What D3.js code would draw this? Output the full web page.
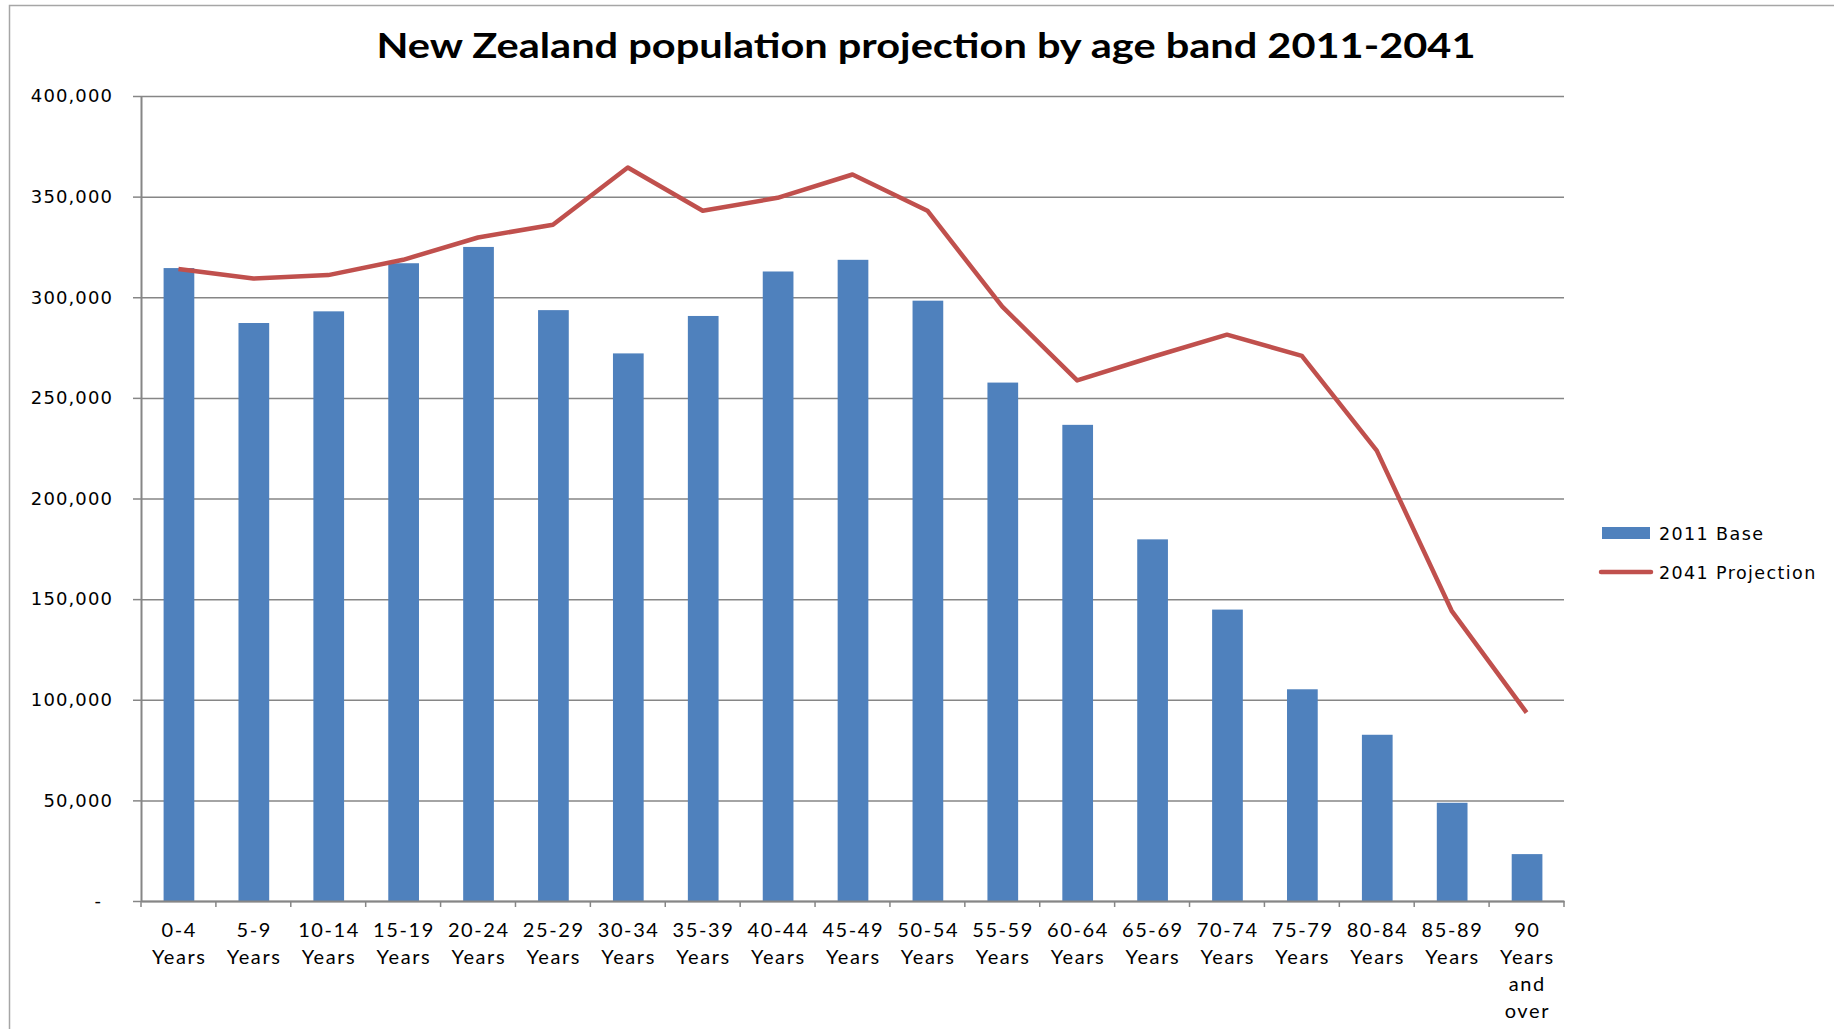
<!DOCTYPE html>
<html>
<head>
<meta charset="utf-8">
<script src="https://cdn.jsdelivr.net/npm/d3@7"></script>
<style>
    body { margin: 0; background: #fff; }
    svg { display: block; }
</style>
</head>
<body>
<div id="chart"></div>
<script>
// chart values
const chartTitle = "New Zealand population projection by age band 2011-2041";
const ageBands = ["0-4 Years", "5-9 Years", "10-14 Years", "15-19 Years", "20-24 Years",
    "25-29 Years", "30-34 Years", "35-39 Years", "40-44 Years", "45-49 Years",
    "50-54 Years", "55-59 Years", "60-64 Years", "65-69 Years", "70-74 Years",
    "75-79 Years", "80-84 Years", "85-89 Years", "90 Years and over"];
const base2011 = [314500, 287200, 293000, 316900, 325000, 293600, 272100, 290700, 312800, 318600,
    298300, 257600, 236600, 179700, 144800, 105200, 82600, 48800, 23300];
const proj2041 = [314000, 309300, 311000, 318600, 329700, 336000, 364500, 343000, 349400, 361000,
    343000, 295300, 258700, 270300, 281400, 270900, 223800, 144200, 93600];
const yTicks = [0, 50000, 100000, 150000, 200000, 250000, 300000, 350000, 400000];
const seriesNames = ["2011 Base", "2041 Projection"];

const barColor = "#4F81BD", lineColor = "#C0504D", gridColor = "#868686";

let margin = {top: 96, right: 270, bottom: 128, left: 141};
let fullW = 1834, fullH = 1029;
let width = fullW - margin.left - margin.right;
let height = fullH - margin.top - margin.bottom;

let svg = d3.select("#chart").append("svg")
    .attr("width", fullW)
    .attr("height", fullH);

// outer chart border (only left + top visible)
svg.append("path")
    .attr("d", "M9.5," + fullH + "V5.5H" + fullW)
    .attr("fill", "none")
    .attr("stroke", "#a6a6a6")
    .attr("stroke-width", 1.5);

svg.append("text")
    .attr("x", 926)
    .attr("y", 58)
    .attr("text-anchor", "middle")
    .attr("font-family", "Lato, 'Open Sans', sans-serif")
    .attr("font-weight", "bold")
    .attr("font-size", 35)
    .attr("textLength", 1099)
    .attr("lengthAdjust", "spacingAndGlyphs")
    .text(chartTitle);

let g = svg.append("g")
    .attr("transform", "translate(" + margin.left + "," + margin.top + ")");

let x = d3.scaleBand().domain(ageBands).range([0, width]);
let y = d3.scaleLinear().domain([0, 400000]).range([height, 0]);
let bw = x.bandwidth();
let barW = bw * 0.41;

// gridlines
let grid = g.append("g")
    .call(d3.axisLeft(y).tickValues(yTicks).tickSize(-width).tickFormat(""));
grid.select(".domain").remove();
grid.selectAll("line").attr("stroke", gridColor).attr("stroke-width", 1.5);

// bars
g.selectAll(".bar")
    .data(ageBands)
    .enter().append("rect")
    .attr("class", "bar")
    .attr("x", function (d) { return x(d) + (bw - barW) / 2 + 0.5; })
    .attr("width", barW)
    .attr("y", function (d, i) { return y(base2011[i]); })
    .attr("height", function (d, i) { return height - y(base2011[i]); })
    .attr("fill", barColor);

// y axis
let yAxis = g.append("g")
    .call(d3.axisLeft(y).tickValues(yTicks).tickSize(8).tickSizeOuter(0)
        .tickFormat(function (d) { return d === 0 ? "-" : d3.format(",")(d); }));
yAxis.select(".domain").attr("stroke", gridColor).attr("stroke-width", 2);
yAxis.selectAll("line").attr("stroke", gridColor).attr("stroke-width", 1.5);
yAxis.selectAll("text")
    .attr("x", -28)
    .attr("fill", "#000")
    .attr("font-family", "'DejaVu Sans', sans-serif")
    .attr("font-size", 18)
    .attr("letter-spacing", 1.1)
    .filter(function (d) { return d === 0; })
    .attr("x", -39);

// x axis: labels at band centres, ticks at band edges
let xAxis = g.append("g")
    .attr("transform", "translate(0," + height + ")")
    .call(d3.axisBottom(x).tickSize(0).tickSizeOuter(0));
xAxis.select(".domain").attr("stroke", gridColor).attr("stroke-width", 2);
xAxis.selectAll("text").each(function (d) {
    let t = d3.select(this).text(null)
        .attr("y", 0)
        .attr("dy", null)
        .attr("fill", "#000")
        .attr("font-family", "Lato, 'Open Sans', sans-serif")
        .attr("font-size", 20)
        .attr("letter-spacing", 1.6);
    d.split(" ").forEach(function (w, k) {
        t.append("tspan").attr("x", 0.8).attr("y", 36 + k * 27).text(w);
    });
});
g.append("g").selectAll("line")
    .data(ageBands.map(function (d) { return x(d); }).concat([width]))
    .enter().append("line")
    .attr("x1", function (d) { return d; })
    .attr("x2", function (d) { return d; })
    .attr("y1", height)
    .attr("y2", height + 6)
    .attr("stroke", gridColor)
    .attr("stroke-width", 1.5);

// projection line
g.append("path")
    .datum(proj2041)
    .attr("fill", "none")
    .attr("stroke", lineColor)
    .attr("stroke-width", 4.5)
    .attr("stroke-linejoin", "round")
    .attr("d", d3.line()
        .x(function (d, i) { return x(ageBands[i]) + bw / 2; })
        .y(function (d) { return y(d); })
    );

// legend
let legend = svg.append("g");
legend.append("rect")
    .attr("x", 1602).attr("y", 527).attr("width", 48).attr("height", 12)
    .attr("fill", barColor);
legend.append("line")
    .attr("x1", 1601).attr("x2", 1651).attr("y1", 572).attr("y2", 572)
    .attr("stroke", lineColor).attr("stroke-width", 4.5).attr("stroke-linecap", "round");
legend.selectAll("text")
    .data(seriesNames)
    .enter().append("text")
    .attr("x", 1659)
    .attr("y", function (d, i) { return 540 + i * 39; })
    .attr("font-family", "'DejaVu Sans', sans-serif")
    .attr("font-size", 17.5)
    .attr("letter-spacing", 1.4)
    .text(function (d) { return d; });
</script>
</body>
</html>
